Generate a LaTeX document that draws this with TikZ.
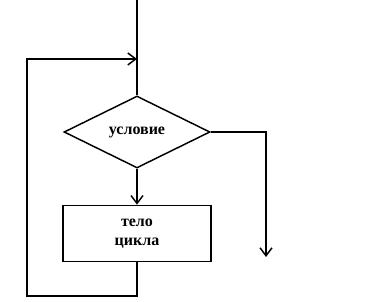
\documentclass[tikz,border=0pt]{standalone}
\usepackage{fontspec}
\setmainfont{Liberation Serif}
\usetikzlibrary{arrows.meta,positioning,shapes.geometric}

\begin{document}
\begin{tikzpicture}[x=0.75pt, y=-0.75pt, node distance=27pt, line width=1.1pt,
      >={Straight Barb[length=6pt, width=9pt]},
      cond/.style={draw, diamond, inner sep=0pt, minimum width=109.5pt, minimum height=54pt, font=\bfseries\fontsize{12}{13}\selectfont},
      block/.style={draw, minimum width=111pt, minimum height=42pt, align=center, font=\bfseries\fontsize{12}{14.5}\selectfont}]
    \useasboundingbox (0,0) rectangle (381,302);
    \node[cond] (usl) at (137,132) {условие};
    \node[block, below=of usl] (telo) {тело\\цикла};
    \coordinate (vhod) at (137,0);
    \coordinate (vozvrat) at (137,59);
    \coordinate (niz) at (137,296);
    \coordinate (levo) at (27,296);
    \coordinate (vyhod) at (266,257);
    \draw (vhod) -- (usl.north);
    \draw[->] (usl.south) -- (telo.north);
    \draw[->] (usl.east) -| (vyhod);
    \draw[->] (telo.south) -- (niz) -- (levo) |- (vozvrat);
  \end{tikzpicture}
\end{document}
